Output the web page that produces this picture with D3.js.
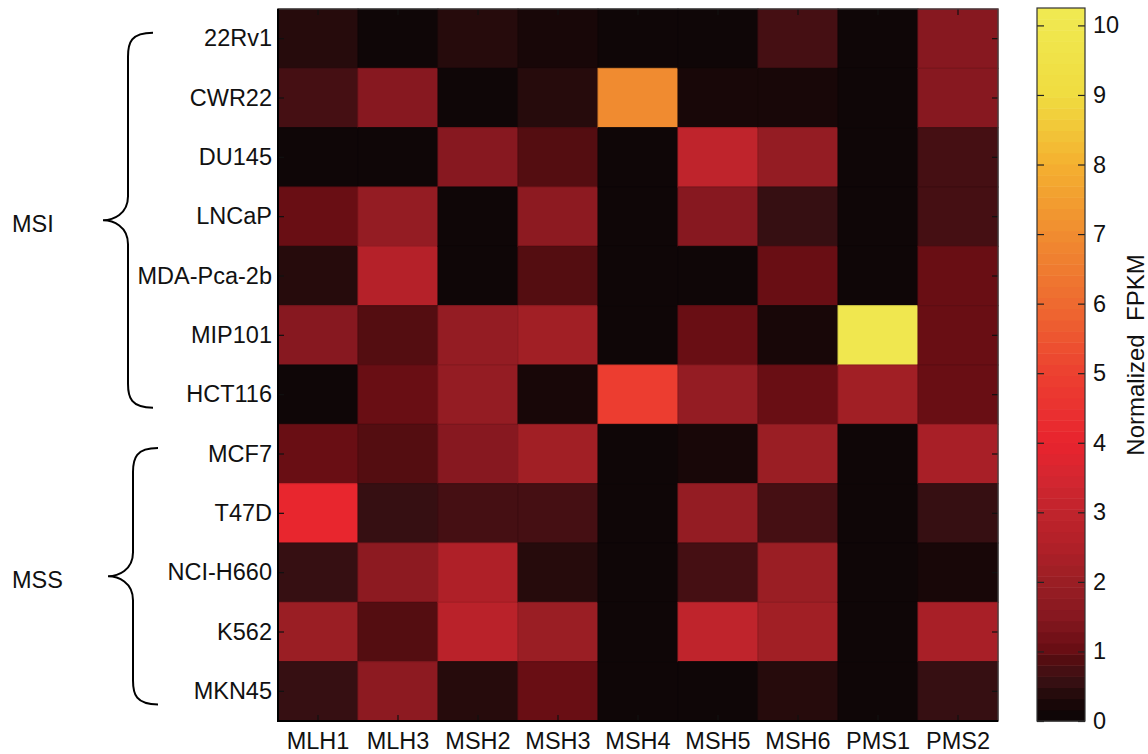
<!DOCTYPE html>
<html>
<head>
<meta charset="utf-8">
<script src="https://cdn.jsdelivr.net/npm/d3@7"></script>
<style>
  html, body { margin: 0; padding: 0; background: #fff; }
  svg { display: block; font-family: "Liberation Sans", Arial, sans-serif; }
</style>
</head>
<body>
<svg id="chart" width="1148" height="754"></svg>
<script>
// ---- data ----
const cellLines = ["22Rv1","CWR22","DU145","LNCaP","MDA-Pca-2b","MIP101","HCT116","MCF7","T47D","NCI-H660","K562","MKN45"];
const genes = ["MLH1","MLH3","MSH2","MSH3","MSH4","MSH5","MSH6","PMS1","PMS2"];
const MLH1 = [0.4, 0.7, 0.0, 1.1, 0.4, 1.6, 0.0, 1.1, 4.1, 0.5, 2.0, 0.5];
const MLH3 = [0.05, 1.6, 0.0, 1.8, 2.6, 0.9, 1.1, 0.9, 0.5, 1.7, 0.9, 1.7];
const MSH2 = [0.45, 0.0, 1.6, 0.0, 0.0, 1.9, 1.8, 1.6, 0.7, 2.5, 2.8, 0.4];
const MSH3 = [0.2, 0.45, 0.95, 1.7, 0.95, 2.2, 0.2, 2.1, 0.7, 0.4, 2.0, 1.1];
const MSH4 = [0.0, 7.0, 0.0, 0.0, 0.0, 0.0, 4.9, 0.0, 0.0, 0.0, 0.0, 0.0];
const MSH5 = [0.02, 0.2, 2.9, 1.6, 0.0, 1.1, 1.8, 0.2, 1.9, 0.65, 3.0, 0.0];
const MSH6 = [0.7, 0.2, 1.8, 0.5, 1.1, 0.25, 1.1, 2.0, 0.7, 2.0, 2.2, 0.4];
const PMS1 = [0.0, 0.0, 0.0, 0.0, 0.0, 10.0, 2.1, 0.0, 0.0, 0.0, 0.0, 0.0];
const PMS2 = [1.6, 1.6, 0.7, 0.7, 1.05, 1.1, 1.1, 2.3, 0.5, 0.25, 2.4, 0.6];
const seriesByGene = [MLH1, MLH3, MSH2, MSH3, MSH4, MSH5, MSH6, PMS1, PMS2];
const colorbarTicks = [0,1,2,3,4,5,6,7,8,9,10];
const groups = [
  { name: "MSI", first: "22Rv1", last: "HCT116" },
  { name: "MSS", first: "MCF7", last: "MKN45" }
];
const colorbarTitle = "Normalized  FPKM";
const cmax = 10.25;

// colormap stops
const cmapStops = [0, 0.3, 0.6, 0.95, 1.05, 1.5, 2.0, 2.5, 3.0, 3.5, 4.0, 4.5, 5.0, 6.0, 7.0, 8.0, 9.0, 10.25];
const cmapColors = ["#0a0506","#1c0808","#3a1014","#5a0c10","#6a0e14","#861820","#9a1e24","#b02028","#c0242c","#d42630","#e8242e","#ea3230","#ec4030","#ee6a30","#f08c30","#f4b030","#f0dc40","#f0ea52"];

// ---- build ----
const svg = d3.select("#chart");
const plot = { x0: 278, x1: 998, y0: 9, y1: 721 };
const x = d3.scaleBand().domain(genes).range([plot.x0, plot.x1]);
const y = d3.scaleBand().domain(cellLines).range([plot.y0, plot.y1]);
const cont = d3.scaleLinear().domain(cmapStops).range(cmapColors).interpolate(d3.interpolateRgb).clamp(true);
const nLevels = 64;
const quant = v => {
  const idx = Math.min(nLevels - 1, Math.floor(v / cmax * nLevels));
  return cont((idx + 0.5) / nLevels * cmax);
};

const cells = [];
genes.forEach((g, gi) => cellLines.forEach((c, ci) => cells.push({ gene: g, line: c, v: seriesByGene[gi][ci] })));

svg.append("g").selectAll("rect").data(cells).join("rect")
  .attr("x", d => x(d.gene))
  .attr("y", d => y(d.line))
  .attr("width", x.bandwidth())
  .attr("height", y.bandwidth())
  .attr("fill", d => quant(d.v))
  .attr("stroke", d => d3.color(quant(d.v)).darker(0.35))
  .attr("stroke-width", 1);

// axes
const fs = "23.5px";
const axL = svg.append("g").attr("transform", `translate(${plot.x0},0)`)
  .call(d3.axisLeft(y).tickSizeInner(-6).tickSizeOuter(0).tickPadding(6));
const axB = svg.append("g").attr("transform", `translate(0,${plot.y1})`)
  .call(d3.axisBottom(x).tickSizeInner(-6).tickSizeOuter(0).tickPadding(11));
const axR = svg.append("g").attr("transform", `translate(${plot.x1},0)`)
  .call(d3.axisRight(y).tickSizeInner(-6).tickSizeOuter(0).tickFormat(""));
const axT = svg.append("g").attr("transform", `translate(0,${plot.y0})`)
  .call(d3.axisTop(x).tickSizeInner(-6).tickSizeOuter(0).tickFormat(""));
[axL, axB, axR, axT].forEach(a => {
  a.select(".domain").remove();
  a.selectAll(".tick line").attr("stroke", "#111").attr("stroke-width", 1.2);
  a.selectAll("text").attr("font-size", fs).attr("fill", "#111").attr("font-family", "Liberation Sans, Arial, sans-serif");
});
axL.selectAll("text").attr("x", -6);
// frame
svg.append("rect").attr("x", plot.x0).attr("y", plot.y0)
  .attr("width", plot.x1 - plot.x0).attr("height", plot.y1 - plot.y0)
  .attr("fill", "none").attr("stroke", "#444").attr("stroke-width", 1.2);
svg.append("path").attr("d", `M${plot.x0},${plot.y0}V${plot.y1}H${plot.x1}`)
  .attr("fill", "none").attr("stroke", "#000").attr("stroke-width", 2);

// colorbar
const cb = { x0: 1037, x1: 1085, y0: 8, y1: 721 };
const cy = d3.scaleLinear().domain([0, cmax]).range([cb.y1, cb.y0]);
const cbG = svg.append("g");
const levels = d3.range(nLevels);
cbG.selectAll("rect").data(levels).join("rect")
  .attr("x", cb.x0)
  .attr("width", cb.x1 - cb.x0)
  .attr("y", i => cy((i + 1) / nLevels * cmax))
  .attr("height", i => cy(i / nLevels * cmax) - cy((i + 1) / nLevels * cmax) + 0.5)
  .attr("fill", i => cont((i + 0.5) / nLevels * cmax));
const cbAxR = svg.append("g").attr("transform", `translate(${cb.x1},0)`)
  .call(d3.axisRight(cy).tickValues(colorbarTicks).tickSizeInner(-7).tickSizeOuter(0).tickPadding(8).tickFormat(d3.format("d")));
const cbAxL = svg.append("g").attr("transform", `translate(${cb.x0},0)`)
  .call(d3.axisLeft(cy).tickValues(colorbarTicks).tickSizeInner(-7).tickSizeOuter(0).tickFormat(""));
[cbAxR, cbAxL].forEach(a => {
  a.select(".domain").remove();
  a.selectAll(".tick line").attr("stroke", "#222").attr("stroke-width", 1.2);
  a.selectAll("text").attr("font-size", fs).attr("fill", "#111").attr("font-family", "Liberation Sans, Arial, sans-serif");
});
svg.append("rect").attr("x", cb.x0).attr("y", cb.y0).attr("width", cb.x1 - cb.x0).attr("height", cb.y1 - cb.y0)
  .attr("fill", "none").attr("stroke", "#333").attr("stroke-width", 1.2);
svg.append("text")
  .attr("transform", `translate(1144,355) rotate(-90)`)
  .attr("text-anchor", "middle")
  .attr("font-size", "24px").attr("fill", "#111")
  .style("white-space", "pre")
  .text(colorbarTitle);

// group braces
groups.forEach((g, i) => {
  const top = y(g.first) + y.bandwidth() * 0.4;
  const bot = y(g.last) + y.bandwidth() * 0.72;
  const mid = (top + bot) / 2;
  const spine = i === 0 ? 128 : 133;
  const endX = spine + 25;
  const tipX = spine - 25;
  const r = 24;
  const d = `M${endX},${top} C${spine + 3},${top} ${spine},${top + 10} ${spine},${top + r}` +
    ` L${spine},${mid - r} C${spine},${mid - 6} ${tipX + 10},${mid} ${tipX},${mid}` +
    ` C${tipX + 10},${mid} ${spine},${mid + 6} ${spine},${mid + r}` +
    ` L${spine},${bot - r} C${spine},${bot - 10} ${spine + 3},${bot} ${endX},${bot}`;
  svg.append("path").attr("d", d).attr("fill", "none").attr("stroke", "#000").attr("stroke-width", 2);
  svg.append("text").attr("x", 12).attr("y", mid + 4).attr("dy", "0.35em")
    .attr("font-size", fs).attr("fill", "#111").text(g.name);
});
</script>
</body>
</html>
